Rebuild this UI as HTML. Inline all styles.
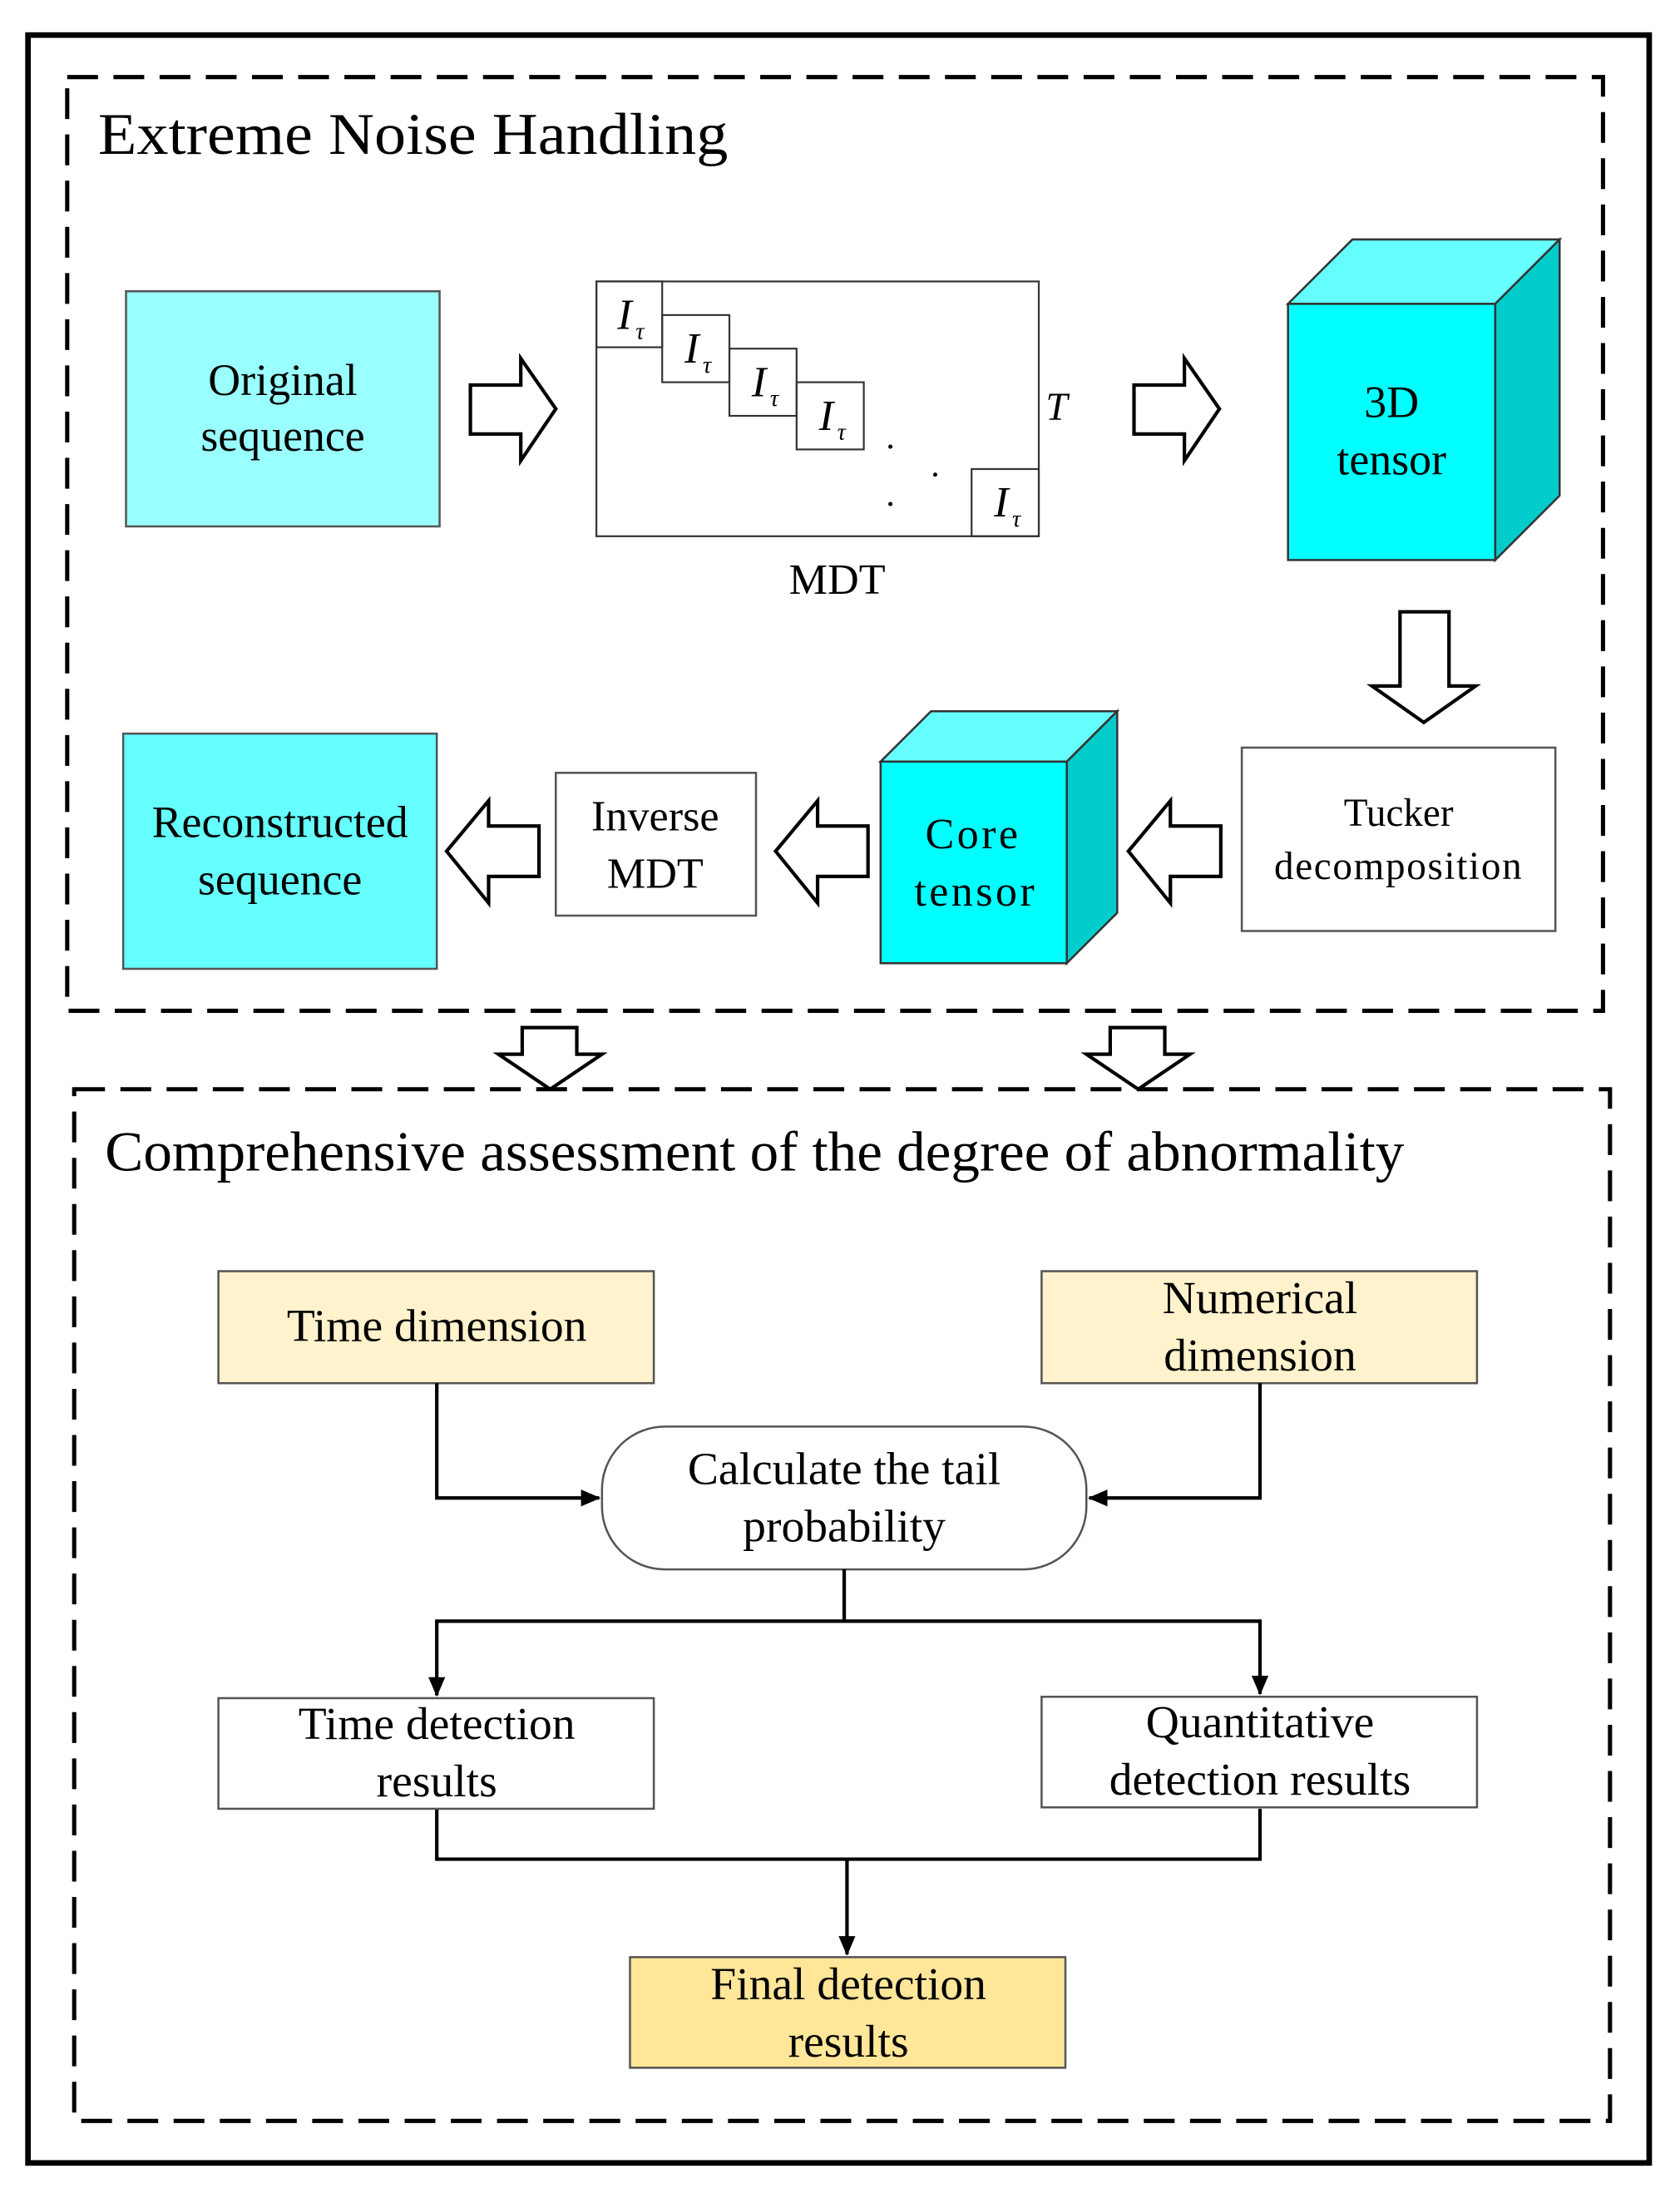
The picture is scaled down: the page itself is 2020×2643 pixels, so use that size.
<!DOCTYPE html>
<html><head><meta charset="utf-8"><style>html,body{margin:0;padding:0;background:#fff}svg{display:block}</style></head>
<body>
<svg width="2020" height="2643" viewBox="0 0 1200 1570" xmlns="http://www.w3.org/2000/svg" font-family="'Liberation Serif', serif">
<defs><marker id="ah" markerWidth="14" markerHeight="14" refX="13" refY="7" orient="auto" markerUnits="userSpaceOnUse"><path d="M0,1 L14,7 L0,13 z" fill="#000"/></marker></defs>
<rect x="20" y="25" width="1158" height="1520" fill="none" stroke="#000" stroke-width="4"/>
<rect x="48" y="55" width="1097" height="667" fill="none" stroke="#000" stroke-width="3" stroke-dasharray="22,11"/>
<rect x="53" y="778" width="1097" height="737" fill="none" stroke="#000" stroke-width="3" stroke-dasharray="22,11"/>
<text x="70" y="110" font-size="42" textLength="450" lengthAdjust="spacingAndGlyphs">Extreme Noise Handling</text>
<text x="75" y="836" font-size="40" textLength="928" lengthAdjust="spacingAndGlyphs">Comprehensive assessment of the degree of abnormality</text>

<rect x="90" y="208" width="224" height="168" fill="#99ffff" stroke="#555" stroke-width="1.5"/>
<text x="202" y="282" font-size="32" text-anchor="middle">Original</text>
<text x="202" y="322" font-size="32" text-anchor="middle">sequence</text>

<g fill="#fff" stroke="#000" stroke-width="2.5">
<path d="M336,275 H372 V256 L397,292 L372,329 V310 H336 Z"/>
<path d="M810,275 H846 V256 L871,292 L846,329 V310 H810 Z"/>
<path d="M1000,437 H1035 V490 H1054 L1017,516 L980,490 H1000 Z"/>
<path d="M872,590 H836 V572 L806,608 L836,645 V626 H872 Z"/>
<path d="M620,590 H584 V572 L554,608 L584,645 V626 H620 Z"/>
<path d="M385,590 H349 V572 L319,608 L349,645 V626 H385 Z"/>
<path d="M373,734 H412 V753 H430 L393,778 L356,753 H373 Z"/>
<path d="M793,734 H832 V753 H850 L813,778 L776,753 H793 Z"/>
</g>

<g fill="none" stroke="#333" stroke-width="1.3">
<rect x="426" y="201" width="316" height="182"/>
<rect x="426" y="201" width="47" height="47"/>
<rect x="473" y="225" width="48" height="48"/>
<rect x="521" y="249" width="48" height="48"/>
<rect x="569" y="273" width="48" height="48"/>
<rect x="694" y="335" width="48" height="48"/>
</g>
<g font-size="31" font-style="italic">
<text x="441" y="235">I</text><text x="454" y="242" font-size="17">τ</text>
<text x="489" y="259">I</text><text x="502" y="266" font-size="17">τ</text>
<text x="537" y="283">I</text><text x="550" y="290" font-size="17">τ</text>
<text x="585" y="307">I</text><text x="598" y="314" font-size="17">τ</text>
<text x="710" y="369">I</text><text x="723" y="376" font-size="17">τ</text>
<text x="747" y="300" font-size="28">T</text>
</g>
<circle cx="636" cy="319" r="1.5"/><circle cx="668" cy="339" r="1.5"/><circle cx="636" cy="360" r="1.5"/>
<text x="598" y="424" font-size="31" text-anchor="middle">MDT</text>

<g stroke="#333" stroke-width="1.5">
<path d="M920,217 L966,171 H1114 L1068,217 Z" fill="#66ffff"/>
<path d="M1068,217 L1114,171 V354 L1068,400 Z" fill="#00cccc"/>
<rect x="920" y="217" width="148" height="183" fill="#00ffff"/>
<path d="M629,544 L665,508 H798 L762,544 Z" fill="#66ffff"/>
<path d="M762,544 L798,508 V652 L762,688 Z" fill="#00cccc"/>
<rect x="629" y="544" width="133" height="144" fill="#00ffff"/>
</g>
<text x="994" y="298" font-size="32" text-anchor="middle">3D</text>
<text x="994" y="339" font-size="32" text-anchor="middle">tensor</text>
<text x="695" y="606" font-size="31" text-anchor="middle" letter-spacing="2">Core</text>
<text x="697" y="647" font-size="31" text-anchor="middle" letter-spacing="2">tensor</text>

<rect x="887" y="534" width="224" height="131" fill="#fff" stroke="#555" stroke-width="1.5"/>
<text x="999" y="590" font-size="28" text-anchor="middle">Tucker</text>
<text x="999" y="628" font-size="28" text-anchor="middle" letter-spacing="1">decomposition</text>

<rect x="397" y="552" width="143" height="102" fill="#fff" stroke="#555" stroke-width="1.5"/>
<text x="468" y="593" font-size="31" text-anchor="middle">Inverse</text>
<text x="468" y="634" font-size="31" text-anchor="middle">MDT</text>

<rect x="88" y="524" width="224" height="168" fill="#66ffff" stroke="#555" stroke-width="1.5"/>
<text x="200" y="598" font-size="32" text-anchor="middle">Reconstructed</text>
<text x="200" y="639" font-size="32" text-anchor="middle">sequence</text>

<rect x="156" y="908" width="311" height="80" fill="#fff2cc" stroke="#555" stroke-width="1.5"/>
<text x="312" y="958" font-size="33" text-anchor="middle">Time dimension</text>
<rect x="744" y="908" width="311" height="80" fill="#fff2cc" stroke="#555" stroke-width="1.5"/>
<text x="900" y="938" font-size="33" text-anchor="middle">Numerical</text>
<text x="900" y="979" font-size="33" text-anchor="middle">dimension</text>

<rect x="430" y="1019" width="346" height="102" rx="45" fill="#fff" stroke="#555" stroke-width="1.5"/>
<text x="603" y="1060" font-size="33" text-anchor="middle">Calculate the tail</text>
<text x="603" y="1101" font-size="33" text-anchor="middle">probability</text>

<g fill="none" stroke="#000" stroke-width="2.5">
<path d="M312,988 V1070 H428" marker-end="url(#ah)"/>
<path d="M900,988 V1070 H778" marker-end="url(#ah)"/>
<path d="M603,1121 V1158 H312 V1211" marker-end="url(#ah)"/>
<path d="M603,1158 H900 V1210" marker-end="url(#ah)"/>
<path d="M312,1292 V1328 H900 V1292"/>
<path d="M605,1328 V1396" marker-end="url(#ah)"/>
</g>

<rect x="156" y="1213" width="311" height="79" fill="#fff" stroke="#555" stroke-width="1.5"/>
<text x="312" y="1242" font-size="33" text-anchor="middle">Time detection</text>
<text x="312" y="1283" font-size="33" text-anchor="middle">results</text>
<rect x="744" y="1212" width="311" height="79" fill="#fff" stroke="#555" stroke-width="1.5"/>
<text x="900" y="1241" font-size="33" text-anchor="middle">Quantitative</text>
<text x="900" y="1282" font-size="33" text-anchor="middle">detection results</text>

<rect x="450" y="1398" width="311" height="79" fill="#ffe699" stroke="#555" stroke-width="1.5"/>
<text x="606" y="1428" font-size="33" text-anchor="middle">Final detection</text>
<text x="606" y="1469" font-size="33" text-anchor="middle">results</text>
</svg>
</body></html>
